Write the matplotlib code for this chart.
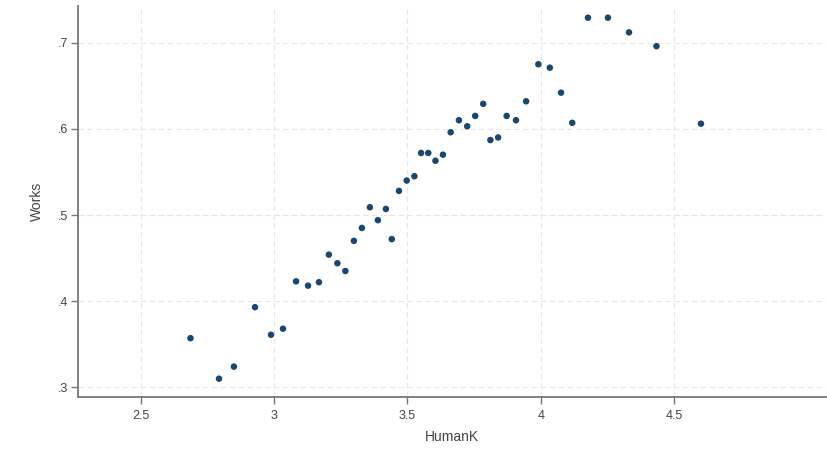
import matplotlib
matplotlib.use("Agg")
import matplotlib.pyplot as plt

human_k = [2.686, 2.793, 2.849, 2.928, 2.988, 3.033, 3.082, 3.127, 3.168, 3.205,
           3.237, 3.267, 3.299, 3.329, 3.359, 3.389, 3.419, 3.441, 3.468, 3.497,
           3.526, 3.551, 3.578, 3.605, 3.633, 3.662, 3.693, 3.724, 3.754, 3.784,
           3.811, 3.840, 3.872, 3.907, 3.945, 3.991, 4.034, 4.076, 4.118, 4.177,
           4.252, 4.331, 4.434, 4.601]
works = [0.357, 0.310, 0.324, 0.393, 0.361, 0.368, 0.423, 0.418, 0.422, 0.454,
         0.444, 0.435, 0.470, 0.485, 0.509, 0.494, 0.507, 0.472, 0.528, 0.540,
         0.545, 0.572, 0.572, 0.563, 0.570, 0.596, 0.610, 0.603, 0.615, 0.629,
         0.587, 0.590, 0.615, 0.610, 0.632, 0.675, 0.671, 0.642, 0.607, 0.729,
         0.729, 0.712, 0.696, 0.606]

x_ticks = [2.5, 3, 3.5, 4, 4.5]
x_ticklabels = ["2.5", "3", "3.5", "4", "4.5"]
y_ticks = [0.3, 0.4, 0.5, 0.6, 0.7]
y_ticklabels = [".3", ".4", ".5", ".6", ".7"]

plt.rcParams['font.family'] = ['Liberation Sans Narrow', 'Liberation Sans', 'DejaVu Sans']

fig = plt.figure(figsize=(8.28, 4.49), dpi=100)
ax = fig.add_axes([78/828, 1 - 397.3/449, (826-78)/828, (397.3-6)/449])

ax.scatter(human_k, works, s=22, color='#1a476f', edgecolors='none', zorder=3)

ax.set_xlim(2.264, 5.07)
ax.set_ylim(0.2884, 0.7426)
ax.set_xticks(x_ticks)
ax.set_xticklabels(x_ticklabels)
ax.set_yticks(y_ticks)
ax.set_yticklabels(y_ticklabels)

ax.grid(True, color='#e6e6e6', linestyle=(0, (5, 3)), linewidth=0.8, zorder=0)
for s in ['top', 'right']:
    ax.spines[s].set_visible(False)
for s in ['left', 'bottom']:
    ax.spines[s].set_color('#777777')
    ax.spines[s].set_linewidth(1.3)
ax.tick_params(axis='both', colors='#777777', labelcolor='#444444', labelsize=9, length=5, width=1)
ax.tick_params(axis='y', pad=2)
ax.tick_params(axis='x', pad=4)

ax.set_xlabel("HumanK", fontsize=10, color='#444444', labelpad=6)
ax.set_ylabel("Works", fontsize=10, color='#444444', labelpad=10)

fig.savefig("out.png", dpi=100, facecolor='white')
